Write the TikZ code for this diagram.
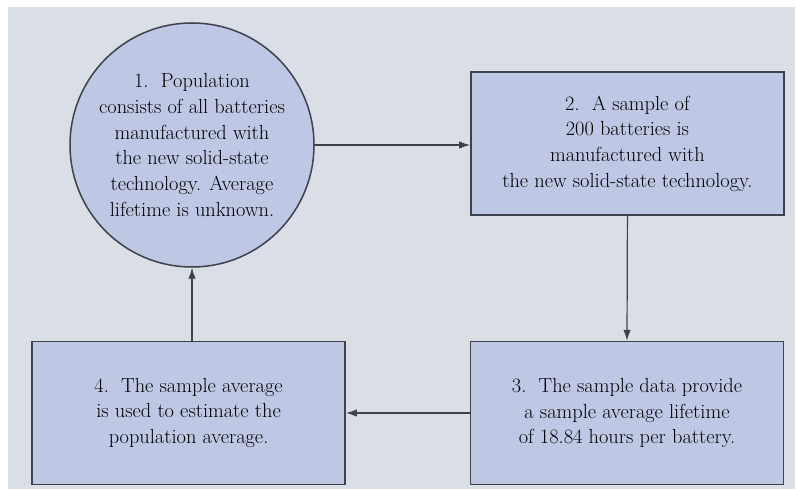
\documentclass[tikz,border=0pt]{standalone}
\usetikzlibrary{arrows.meta}
\definecolor{panelgray}{RGB}{218,223,230}
\definecolor{boxblue}{RGB}{190,199,228}
\definecolor{edgegray}{RGB}{62,66,76}

\begin{document}
\begin{tikzpicture}[
    box/.style={draw=edgegray, line width=1.8pt, fill=boxblue, minimum width=10.95cm,
                minimum height=5cm, align=center, inner sep=0pt,
                font=\fontsize{20.3}{25.5}\selectfont},
    circ/.style={circle, draw=edgegray, line width=1.5pt, fill=boxblue, minimum size=8.54cm,
                 align=center, inner sep=0pt, font=\fontsize{20.3}{25.5}\selectfont},
    arrow/.style={-{Latex[length=3.8mm, width=2.6mm]}, line width=1.2pt, draw=edgegray}
  ]
  % Fons
  \fill[white] (0,0) rectangle (27.86,17.115);
  \fill[panelgray] (0.28,0) rectangle (27.82,16.87);
  % Poblacio
  \node[circ] (pop) at (6.72,12.04) {1.\ \ Population\\consists of all batteries\\manufactured with\\the new solid-state\\technology. Average\\lifetime is unknown.};
  % Mostra
  \node[box] (smp) at (21.96,12.09) {2.\ \ A sample of\\200 batteries is\\manufactured with\\the new solid-state technology.};
  % Dades
  \node[box] (data) at (21.945,2.66) {3.\ \ The sample data provide\\a sample average lifetime\\of 18.84 hours per battery.};
  % Estimacio
  \node[box] (est) at (6.60,2.66) {4.\ \ The sample average\\is used to estimate the\\population average.};
  % Fletxes
  \draw[arrow] (pop.east) -- (pop.east -| smp.west);
  \draw[arrow] (smp.south) -- (data.north);
  \draw[arrow] (data.west) -- (data.west -| est.east);
  \draw[arrow] (est.north -| pop.south) -- (pop.south);
\end{tikzpicture}
\end{document}
